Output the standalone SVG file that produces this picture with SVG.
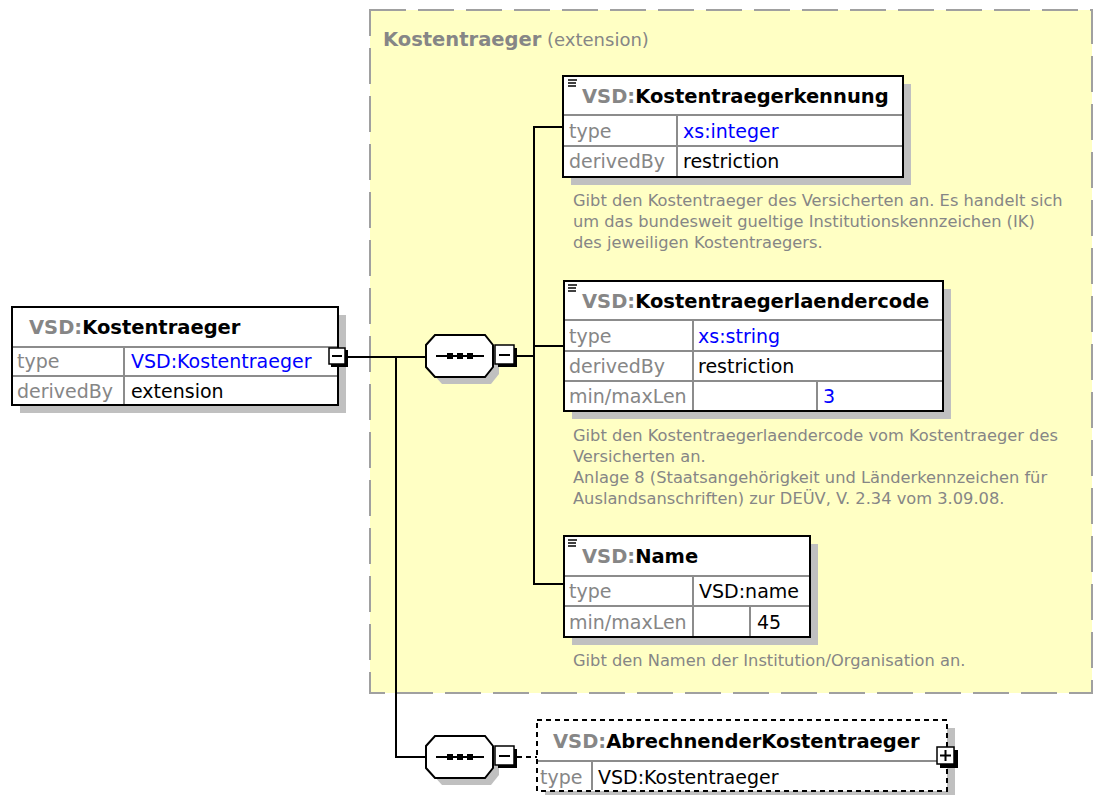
<svg xmlns="http://www.w3.org/2000/svg" width="1098" height="795" viewBox="0 0 1098 795">
<style>
text{font-family:"DejaVu Sans",Verdana,sans-serif}
.ti{font-size:19.5px;font-weight:bold;fill:#000}
.pre{fill:#868686}
.r{font-size:19px;fill:#000}
.lb{fill:#868686}
.bl{fill:#0000ff}
.an{font-size:16.25px;fill:#868686}
.bx{fill:#fff;stroke:#000;stroke-width:2}
.sh{fill:#c0c0c0}
.gl{stroke:#8c8c8c;stroke-width:2;fill:none}
.cn{stroke:#000;stroke-width:2;fill:none}
.ic{stroke:#000;stroke-width:1.5}
.btn{fill:#fff;stroke:#000;stroke-width:1.5}
</style>
<defs>
<g id="seq">
<path class="sh" d="M442,342 H491 L499,352 V374 L491,384 H442 L433,374 V352 Z"/>
<path fill="#fff" stroke="#000" stroke-width="2" d="M435,335 H485 L493,345 V367 L485,377 H435 L426,367 V345 Z"/>
<line x1="436" y1="356" x2="484" y2="356" stroke="#000" stroke-width="2"/>
<rect x="447" y="353" width="6" height="6" fill="#000"/>
<rect x="457" y="353" width="6" height="6" fill="#000"/>
<rect x="467" y="353" width="6" height="6" fill="#000"/>
<rect x="498" y="348" width="19" height="19" fill="#000"/>
<rect class="btn" x="495" y="345" width="19" height="19"/>
<line x1="499" y1="355" x2="510" y2="355" stroke="#000" stroke-width="2"/>
</g>
<g id="icon">
<line class="ic" x1="568" y1="0" x2="577" y2="0"/>
<line class="ic" x1="568" y1="3" x2="576" y2="3"/>
<line class="ic" x1="568" y1="6" x2="576" y2="6"/>
</g>
</defs>

<g id="extension-box">
<rect x="370" y="10" width="722" height="683" fill="#ffffc4" stroke="#a0a0a0" stroke-width="2" stroke-dasharray="36 12"/>
<text x="383" y="46" class="pre"><tspan font-weight="bold" font-size="19.5px">Kostentraeger</tspan><tspan font-size="18px"> (extension)</tspan></text>
</g>

<g id="connectors">
<line class="cn" x1="347" y1="357" x2="426" y2="357"/>
<polyline class="cn" points="396,357 396,757 426,757"/>
<line class="cn" x1="517" y1="356" x2="534" y2="356"/>
<polyline class="cn" points="563,127 534,127 534,584 564,584"/>
<line class="cn" x1="534" y1="346" x2="564" y2="346"/>
<line x1="517" y1="757" x2="537" y2="757" stroke="#000" stroke-width="2" stroke-dasharray="5 4"/>
</g>

<g id="node-kostentraeger">
<rect class="sh" x="20" y="315" width="326" height="98"/>
<rect class="bx" x="12" y="307" width="326" height="98"/>
<line class="gl" x1="13" y1="347" x2="337" y2="347"/>
<line class="gl" x1="13" y1="376" x2="337" y2="376"/>
<line class="gl" x1="124" y1="347" x2="124" y2="404"/>
<text x="29" y="334" class="ti"><tspan class="pre">VSD:</tspan>Kostentraeger</text>
<text x="17" y="368" class="r lb">type</text>
<text x="131" y="368" class="r bl">VSD:Kostentraeger</text>
<text x="17" y="398" class="r lb">derivedBy</text>
<text x="131" y="398" class="r">extension</text>
<rect x="331" y="350" width="17" height="17" fill="#000"/>
<rect class="btn" x="329" y="348" width="16" height="16"/>
<line x1="332" y1="356" x2="342" y2="356" stroke="#000" stroke-width="2"/>
</g>

<g id="sequence-1">
<use href="#seq"/>
</g>

<g id="node-kostentraegerkennung">
<rect class="sh" x="571" y="84" width="340" height="101"/>
<rect class="bx" x="563" y="76" width="340" height="101"/>
<line class="gl" x1="564" y1="115" x2="902" y2="115"/>
<line class="gl" x1="564" y1="146" x2="902" y2="146"/>
<line class="gl" x1="677" y1="115" x2="677" y2="176"/>
<use href="#icon" y="80"/>
<text x="582" y="103" class="ti"><tspan class="pre">VSD:</tspan>Kostentraegerkennung</text>
<text x="569" y="138" class="r lb">type</text>
<text x="683" y="138" class="r bl">xs:integer</text>
<text x="569" y="168" class="r lb">derivedBy</text>
<text x="683" y="168" class="r">restriction</text>
<text class="an"><tspan x="573" y="206">Gibt den Kostentraeger des Versicherten an. Es handelt sich</tspan><tspan x="573" y="227">um das bundesweit gueltige Institutionskennzeichen (IK)</tspan><tspan x="573" y="248">des jeweiligen Kostentraegers.</tspan></text>
</g>

<g id="node-kostentraegerlaendercode">
<rect class="sh" x="572" y="289" width="379" height="130"/>
<rect class="bx" x="564" y="281" width="379" height="130"/>
<line class="gl" x1="565" y1="320" x2="942" y2="320"/>
<line class="gl" x1="565" y1="351" x2="942" y2="351"/>
<line class="gl" x1="565" y1="381" x2="942" y2="381"/>
<line class="gl" x1="693" y1="320" x2="693" y2="410"/>
<line class="gl" x1="817" y1="381" x2="817" y2="410"/>
<use href="#icon" y="285"/>
<text x="582" y="308" class="ti"><tspan class="pre">VSD:</tspan>Kostentraegerlaendercode</text>
<text x="569" y="343" class="r lb">type</text>
<text x="698" y="343" class="r bl">xs:string</text>
<text x="569" y="373" class="r lb">derivedBy</text>
<text x="698" y="373" class="r">restriction</text>
<text x="569" y="403" class="r lb">min/maxLen</text>
<text x="823" y="403" class="r bl">3</text>
<text class="an"><tspan x="573" y="441">Gibt den Kostentraegerlaendercode vom Kostentraeger des</tspan><tspan x="573" y="462">Versicherten an.</tspan><tspan x="573" y="483">Anlage 8 (Staatsangehörigkeit und Länderkennzeichen für</tspan><tspan x="573" y="504">Auslandsanschriften) zur DEÜV, V. 2.34 vom 3.09.08.</tspan></text>
</g>

<g id="node-name">
<rect class="sh" x="572" y="544" width="246" height="101"/>
<rect class="bx" x="564" y="536" width="246" height="101"/>
<line class="gl" x1="565" y1="576" x2="809" y2="576"/>
<line class="gl" x1="565" y1="606" x2="809" y2="606"/>
<line class="gl" x1="693" y1="576" x2="693" y2="636"/>
<line class="gl" x1="750" y1="606" x2="750" y2="636"/>
<use href="#icon" y="540"/>
<text x="582" y="563" class="ti"><tspan class="pre">VSD:</tspan>Name</text>
<text x="569" y="598" class="r lb">type</text>
<text x="699" y="598" class="r">VSD:name</text>
<text x="569" y="629" class="r lb">min/maxLen</text>
<text x="757" y="629" class="r">45</text>
<text x="573" y="666" class="an">Gibt den Namen der Institution/Organisation an.</text>
</g>

<g id="sequence-2">
<use href="#seq" y="401"/>
</g>

<g id="node-abrechnenderkostentraeger">
<rect class="sh" x="545" y="728" width="410" height="71"/>
<rect x="537" y="720" width="410" height="71" fill="#fff" stroke="#000" stroke-width="2" stroke-dasharray="5 4"/>
<line class="gl" x1="538" y1="761" x2="946" y2="761"/>
<line class="gl" x1="592" y1="761" x2="592" y2="790"/>
<text x="553" y="748" class="ti"><tspan class="pre">VSD:</tspan>AbrechnenderKostentraeger</text>
<text x="540" y="784" class="r lb">type</text>
<text x="598" y="784" class="r">VSD:Kostentraeger</text>
<rect x="940" y="750" width="18" height="18" fill="#000"/>
<rect class="btn" x="937" y="747" width="17" height="17"/>
<line x1="940" y1="755.5" x2="951" y2="755.5" stroke="#000" stroke-width="2"/>
<line x1="945.5" y1="750" x2="945.5" y2="761" stroke="#000" stroke-width="2"/>
</g>
</svg>
